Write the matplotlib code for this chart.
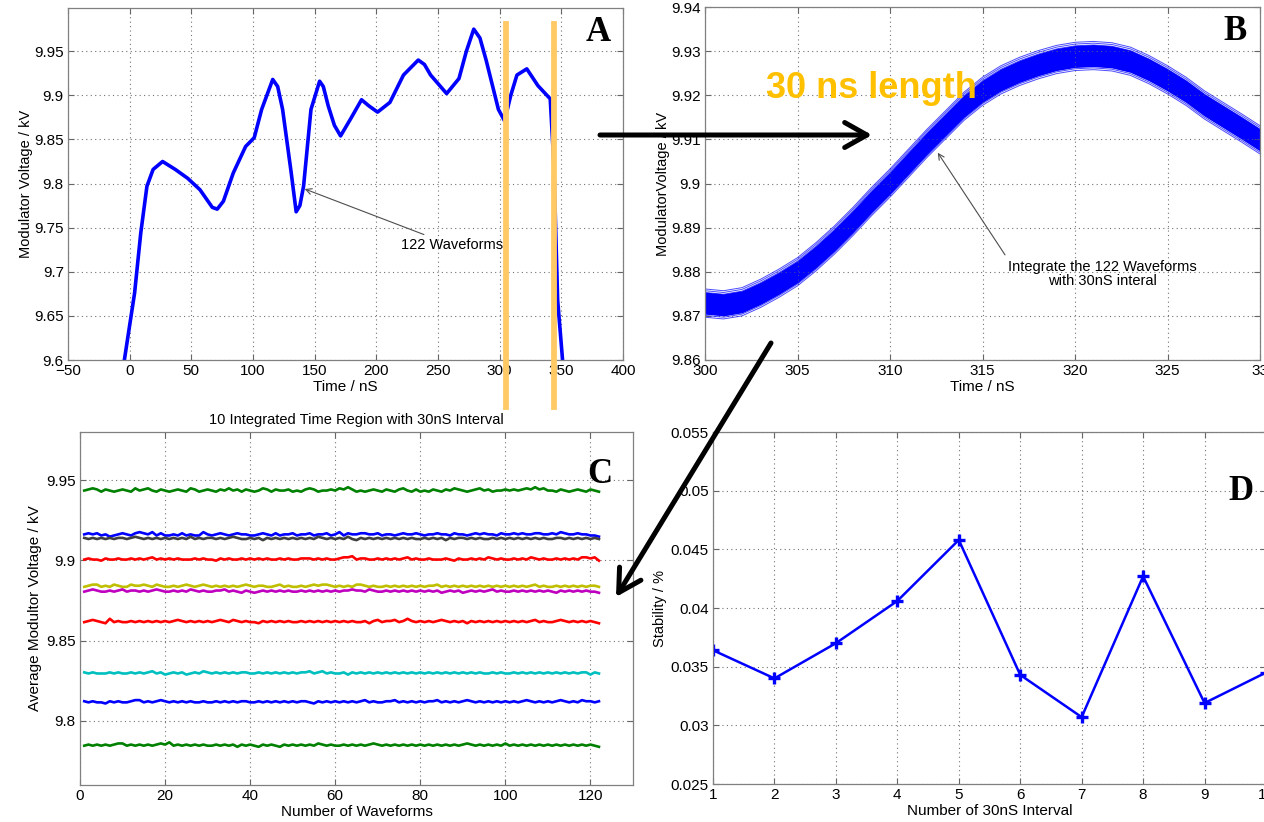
import numpy as np
import matplotlib.pyplot as plt
from matplotlib.patches import FancyArrowPatch, ArrowStyle

plt.rcParams['font.family'] = ['Liberation Sans', 'DejaVu Sans']

# ---- panel A : overlaid waveforms
t_a = [-4.3, 4, 9, 14, 19, 26.7, 37, 47, 57, 67, 71, 76, 84, 94, 101, 107, 116, 120,
       124, 131, 135, 138, 141, 147, 154, 157, 161, 166, 171, 179, 188, 194, 201, 211,
       222, 234, 239, 244, 257, 267, 273, 279, 284, 289, 299, 304, 309, 314, 322, 331,
       341, 344, 347, 351]
v_a = [9.600, 9.676, 9.744, 9.797, 9.816, 9.825, 9.816, 9.806, 9.793, 9.773, 9.771,
       9.780, 9.812, 9.842, 9.852, 9.884, 9.918, 9.910, 9.884, 9.812, 9.768, 9.775,
       9.797, 9.884, 9.916, 9.910, 9.888, 9.866, 9.854, 9.873, 9.895, 9.888, 9.881,
       9.892, 9.923, 9.940, 9.935, 9.923, 9.902, 9.919, 9.950, 9.975, 9.965, 9.940,
       9.884, 9.871, 9.900, 9.923, 9.930, 9.911, 9.896, 9.820, 9.668, 9.600]
region_marks = [305, 344]

# ---- panel B : zoom on 300-330 nS
t_b = list(range(300, 331))
v_b = [9.8729, 9.8725, 9.8732, 9.8751, 9.8774, 9.8800, 9.8834, 9.8872, 9.8914, 9.8959,
       9.9001, 9.9046, 9.9091, 9.9133, 9.9175, 9.9209, 9.9235, 9.9254, 9.9269, 9.9281,
       9.9288, 9.9290, 9.9287, 9.9277, 9.9258, 9.9235, 9.9209, 9.9178, 9.9152, 9.9126,
       9.9099]
spread_b = [-0.0032, -0.0028, -0.0024, -0.0020, -0.0016, -0.0012, -0.0008, -0.0004,
            0.0, 0.0004, 0.0008, 0.0012, 0.0016, 0.0020, 0.0024, 0.0028, 0.0032]

# ---- panel C : averages of 10 regions for each waveform
c_base = [9.9435, 9.9155, 9.9140, 9.9005, 9.8835, 9.8805, 9.8615, 9.8295, 9.8115, 9.7845]
c_colors = [(0, 0.5, 0), (0, 0, 1), (0.25, 0.25, 0.25), (1, 0, 0), (0.75, 0.75, 0),
            (0.75, 0, 0.75), (1, 0, 0), (0, 0.75, 0.75), (0, 0, 1), (0, 0.5, 0)]
# deviation per waveform, one digit each, step 0.0007 kV, 4 = base
c_jitter = [
    "4565354345" "4364564354" "3454365345" "4354645354" "3465354453" "4356534454"
    "6575343454" "3543564353" "4354354654" "3456453445" "4545657564" "4354345435" "43",
    "5656453456" "5467657464" "4546454475" "4565456554" "4565464556" "4556455645"
    "7465566556" "4554565565" "4556554655" "4565655465" "5656556655" "6576556554" "43",
    "4343434344" "3454343434" "3434353434" "4343454334" "3424343434" "3434354343"
    "4353243434" "3434343433" "4343424344" "3434334343" "4343434343" "3443434343" "43",
    "4544354454" "4545456454" "5454445454" "4354544545" "4545445454" "4555454544"
    "5667455445" "4545456454" "4544454354" "4545465454" "4545465454" "4545454665" "63",
    "4566454654" "4655654654" "4545654565" "4545454565" "4554456454" "4545656654"
    "5454665454" "4545454545" "4556454545" "4545454545" "4545456454" "4545454545" "54",
    "4565445456" "4554545654" "4545465454" "4556454354" "3454545454" "4545454545"
    "4556554654" "4545454545" "4545345453" "4545456454" "4545454545" "4354545454" "43",
    "4565437454" "4545454545" "4565454545" "4565465454" "4354545454" "4545454545"
    "4545445356" "4556457545" "4545654545" "3545454545" "4545456454" "4565454545" "43",
    "5454445454" "4545456453" "4545345465" "4545454554" "4545454545" "4556456454"
    "4535454545" "4545454545" "4545454545" "4545445454" "4545454545" "4545454553" "54",
    "5454435454" "4566454565" "4545454454" "4545454554" "4545454545" "4554354545"
    "4545456454" "4556454545" "4556454545" "6545454545" "4545654545" "4565454655" "45",
    "4545454566" "4545454565" "7454545454" "4545453545" "4354543545" "4545465454"
    "4545454565" "4545454545" "4545454545" "6545454546" "4545454545" "4545454545" "43",
]

# ---- panel D : stability per 30nS interval
interval = [1, 2, 3, 4, 5, 6, 7, 8, 9, 10]
stability = [0.0364, 0.0340, 0.0370, 0.0406, 0.0458, 0.0343, 0.0307, 0.0427, 0.0319, 0.0345]

W, H = 1264, 822


def box(l, t, r, b):
    return [l / W, (H - b) / H, (r - l) / W, (b - t) / H]


def matlab_look(ax):
    ax.grid(True, linestyle=(0, (1, 3)), color='0.45', linewidth=0.8)
    ax.tick_params(direction='in', length=4, labelsize=11, top=True, right=True,
                   color='0.4', pad=3)
    for s in ax.spines.values():
        s.set_color('0.5')
        s.set_linewidth(0.9)


fig = plt.figure(figsize=(W / 100, H / 100), dpi=100)

# A
axA = fig.add_axes(box(68, 8, 623, 360))
axA.plot(t_a, v_a, color='blue', lw=2.6)
axA.set_xlim(-50, 400)
axA.set_ylim(9.6, 9.999)
axA.set_xticks(np.arange(-50, 401, 50))
axA.set_yticks([9.6, 9.65, 9.7, 9.75, 9.8, 9.85, 9.9, 9.95])
axA.set_yticklabels(['9.6', '9.65', '9.7', '9.75', '9.8', '9.85', '9.9', '9.95'])
axA.set_xlabel('Time / nS', fontsize=11, labelpad=1)
axA.set_ylabel('Modulator Voltage / kV', fontsize=10.5, labelpad=1)
matlab_look(axA)
axA.annotate('122 Waveforms', xy=(139.8, 9.795), xytext=(220, 9.73), fontsize=10.5,
             va='center', ha='left',
             arrowprops=dict(arrowstyle='->', color='0.3', lw=0.8))
for xm in region_marks:
    axA.axvline(xm, ymin=-0.134, ymax=0.955, color='#FFC966', lw=4.2, clip_on=False,
                zorder=5)
axA.text(0.955, 0.93, 'A', transform=axA.transAxes, fontsize=25, fontweight='bold',
         family='Liberation Serif', ha='center', va='center')

# B
axB = fig.add_axes(box(705, 7, 1260, 360))
tb = np.array(t_b)
vb = np.array(v_b)
axB.fill_between(tb, vb - 0.0025, vb + 0.0025, color='blue', lw=0)
for d in spread_b:
    axB.plot(tb, vb + d, color='blue', lw=0.7, alpha=0.7)
axB.set_xlim(300, 330)
axB.set_ylim(9.86, 9.94)
axB.set_xticks(np.arange(300, 331, 5))
axB.set_xticklabels(['300', '305', '310', '315', '320', '325', '33'])
axB.set_yticks(np.arange(9.86, 9.9401, 0.01))
axB.set_yticklabels(['9.86', '9.87', '9.88', '9.89', '9.9', '9.91', '9.92', '9.93', '9.94'])
axB.set_xlabel('Time / nS', fontsize=11, labelpad=1)
axB.set_ylabel('ModulatorVoltage / kV', fontsize=10.5, labelpad=1)
matlab_look(axB)
axB.annotate('Integrate the 122 Waveforms\nwith 30nS interal', xy=(312.5, 9.9075),
             xytext=(321.5, 9.8795), fontsize=10.5, ha='center', va='center',
             linespacing=1.0,
             arrowprops=dict(arrowstyle='->', color='0.3', lw=0.8,
                             relpos=(0.0, 1.0), shrinkA=2))
axB.text(0.955, 0.93, 'B', transform=axB.transAxes, fontsize=25, fontweight='bold',
         family='Liberation Serif', ha='center', va='center')

# C
axC = fig.add_axes(box(80, 432, 633, 785))
for base, col, s in zip(c_base, c_colors, c_jitter):
    dev = np.array([int(ch) for ch in s]) - 4
    axC.plot(np.arange(1, len(dev) + 1), base + dev * 0.0007, color=col, lw=1.9)
axC.set_xlim(0, 130)
axC.set_ylim(9.76, 9.98)
axC.set_xticks(np.arange(0, 121, 20))
axC.set_yticks([9.8, 9.85, 9.9, 9.95])
axC.set_yticklabels(['9.8', '9.85', '9.9', '9.95'])
axC.set_xlabel('Number of Waveforms', fontsize=11, labelpad=1)
axC.set_ylabel('Average Modultor Voltage / kV', fontsize=11, labelpad=3)
axC.set_title('10 Integrated Time Region with 30nS Interval', fontsize=10.5, pad=6)
matlab_look(axC)
axC.text(0.94, 0.88, 'C', transform=axC.transAxes, fontsize=25, fontweight='bold',
         family='Liberation Serif', ha='center', va='center')

# D
axD = fig.add_axes(box(713, 432, 1266, 784))
axD.plot(interval, stability, color='blue', lw=1.8, marker='+', ms=9, mew=2.4)
axD.set_xlim(1, 10)
axD.set_ylim(0.025, 0.055)
axD.set_xticks(interval)
axD.set_yticks(np.arange(0.025, 0.0551, 0.005))
axD.set_yticklabels(['0.025', '0.03', '0.035', '0.04', '0.045', '0.05', '0.055'])
axD.set_xlabel('Number of 30nS Interval', fontsize=11, labelpad=1)
axD.set_ylabel('Stability / %', fontsize=10.5, labelpad=3)
matlab_look(axD)
axD.text(0.955, 0.83, 'D', transform=axD.transAxes, fontsize=25, fontweight='bold',
         family='Liberation Serif', ha='center', va='center')

# overlay arrows and caption
head = ArrowStyle('->', head_length=0.8, head_width=0.45)
for (x0, y0), (x1, y1) in [((600, 135), (872, 135)), ((771, 343), (616, 597))]:
    fig.add_artist(FancyArrowPatch((x0 / W, 1 - y0 / H), (x1 / W, 1 - y1 / H),
                                   transform=fig.transFigure, arrowstyle=head,
                                   mutation_scale=20, lw=3.6, color='black',
                                   shrinkA=0, shrinkB=0, zorder=20,
                                   joinstyle='round', capstyle='round'))
fig.text(871 / W, 1 - 88 / H, '30 ns length', fontsize=26, fontweight='bold',
         color='#FFC000', ha='center', va='center', zorder=21)

fig.savefig('out.png', dpi=100)
